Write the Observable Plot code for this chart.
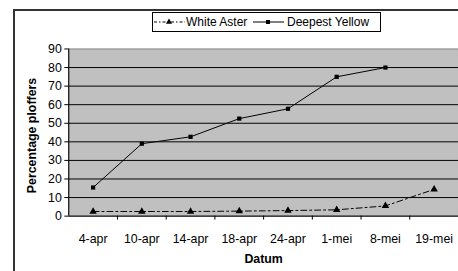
<!DOCTYPE html>
<html>
<head>
<meta charset="utf-8">
<script src="https://cdn.jsdelivr.net/npm/d3@7"></script>
<script src="https://cdn.jsdelivr.net/npm/@observablehq/plot@0.6"></script>
<style>
  html, body { margin: 0; padding: 0; background: #fff; overflow: hidden; }
  #wrap { position: relative; width: 458px; height: 271px; overflow: hidden; font-family: "Liberation Sans", Arial, sans-serif; }
  #frame { position: absolute; left: 13px; top: 9px; width: 600px; height: 400px; border: 2px solid #333; box-sizing: border-box; pointer-events: none; }
  #legend { position: absolute; left: 152px; top: 12px; width: 229px; height: 20px; border: 1px solid #000; box-sizing: border-box; background: #fff; font-size: 12px; color: #000; }
  #legend svg, #legend span { position: absolute; display: block; }
  #legend span { top: 2px; white-space: nowrap; }
  #chart { position: absolute; left: 0; top: 0; }
</style>
</head>
<body>
<div id="wrap">
  <div id="chart"></div>
  <div id="frame"></div>
  <div id="legend"></div>
</div>
<script>
const categories = ["4-apr", "10-apr", "14-apr", "18-apr", "24-apr", "1-mei", "8-mei", "19-mei"];
const whiteAster = [2.5, 2.5, 2.5, 2.7, 3, 3.4, 5.5, 14.4];
const deepestYellow = [15.4, 39, 42.7, 52.5, 57.8, 75, 80, null];
const yTicks = [0, 10, 20, 30, 40, 50, 60, 70, 80, 90];
const seriesNames = ["White Aster", "Deepest Yellow"];

const waData = whiteAster.map((v, i) => ({i, v})).filter(d => d.v != null);
const dyData = deepestYellow.map((v, i) => ({i, v})).filter(d => d.v != null);
const idx = categories.map((c, i) => i);
const bounds = categories.slice(1).map((c, i) => i + 0.5);

const dash = "6,3,2,3";

const chart = Plot.plot({
  width: 463,
  height: 271,
  marginLeft: 69,
  marginRight: 0,
  marginTop: 49,
  marginBottom: 53,
  style: {fontFamily: "Liberation Sans, Arial, sans-serif", fontSize: "12.5px", color: "#000", background: "transparent"},
  x: {type: "linear", domain: [-0.5, categories.length - 0.5], axis: null},
  y: {domain: [0, 90], axis: null},
  marks: [
    Plot.frame({fill: "#c0c0c0", stroke: "#808080"}),
    Plot.ruleY(yTicks.slice(1, -1), {stroke: "#000", strokeWidth: 1}),
    Plot.ruleY([0], {stroke: "#000", strokeWidth: 1}),
    Plot.ruleX([-0.5], {stroke: "#000", strokeWidth: 1}),
    Plot.axisY({ticks: yTicks, tickSize: 4, tickPadding: 3, fontSize: 12.5, label: "Percentage ploffers", labelArrow: false, labelAnchor: "center", labelOffset: 42, tickFormat: d => String(d)}),
    Plot.axisX({ticks: bounds, tickSize: 4, tickFormat: () => "", label: null}),
    Plot.axisX({ticks: idx, tickSize: 0, tickPadding: 18, fontSize: 12.5, tickFormat: i => categories[i], label: "Datum", labelArrow: false, labelAnchor: "center", labelOffset: 47}),
    Plot.line(waData, {x: "i", y: "v", stroke: "#000", strokeWidth: 1, strokeDasharray: dash}),
    Plot.dot(waData, {x: "i", y: "v", symbol: "triangle", r: 2.8, fill: "#000", stroke: "none"}),
    Plot.line(dyData, {x: "i", y: "v", stroke: "#000", strokeWidth: 1}),
    Plot.dot(dyData, {x: "i", y: "v", symbol: "square", r: 2.4, fill: "#000", stroke: "none"})
  ]
});
chart.querySelectorAll("g[aria-label='y-axis label'] text, g[aria-label='x-axis label'] text").forEach(t => {
  t.style.fontWeight = "bold"; t.style.fontSize = "12.5px";
  t.textContent = t.textContent.replace(/\s*[→←↑↓]\s*/g, "");
});
chart.querySelectorAll("g[aria-label='y-axis label'] text").forEach(t => t.setAttribute("dx", "-3"));
document.getElementById("chart").appendChild(chart);

// legend
const legend = document.getElementById("legend");
const swatchX = [1, 100];
const textX = [33, 134];
function swatch(kind) {
  const s = d3.create("svg").attr("width", 31).attr("height", 10).style("left", swatchX[kind] + "px").style("top", "4px");
  s.append("line").attr("x1", 0).attr("x2", 31).attr("y1", 5).attr("y2", 5).attr("stroke", "#000").attr("stroke-dasharray", kind === 0 ? "3,2,1.5,2" : null);
  if (kind === 0) s.append("path").attr("d", d3.symbol(d3.symbolTriangle, 16)()).attr("transform", "translate(15,5)").attr("fill", "#000");
  else s.append("rect").attr("x", 13).attr("y", 3).attr("width", 4).attr("height", 4).attr("fill", "#000");
  return s.node();
}
seriesNames.forEach((n, k) => {
  legend.appendChild(swatch(k));
  const sp = document.createElement("span");
  sp.textContent = n;
  sp.style.left = textX[k] + "px";
  legend.appendChild(sp);
});
</script>
</body>
</html>
